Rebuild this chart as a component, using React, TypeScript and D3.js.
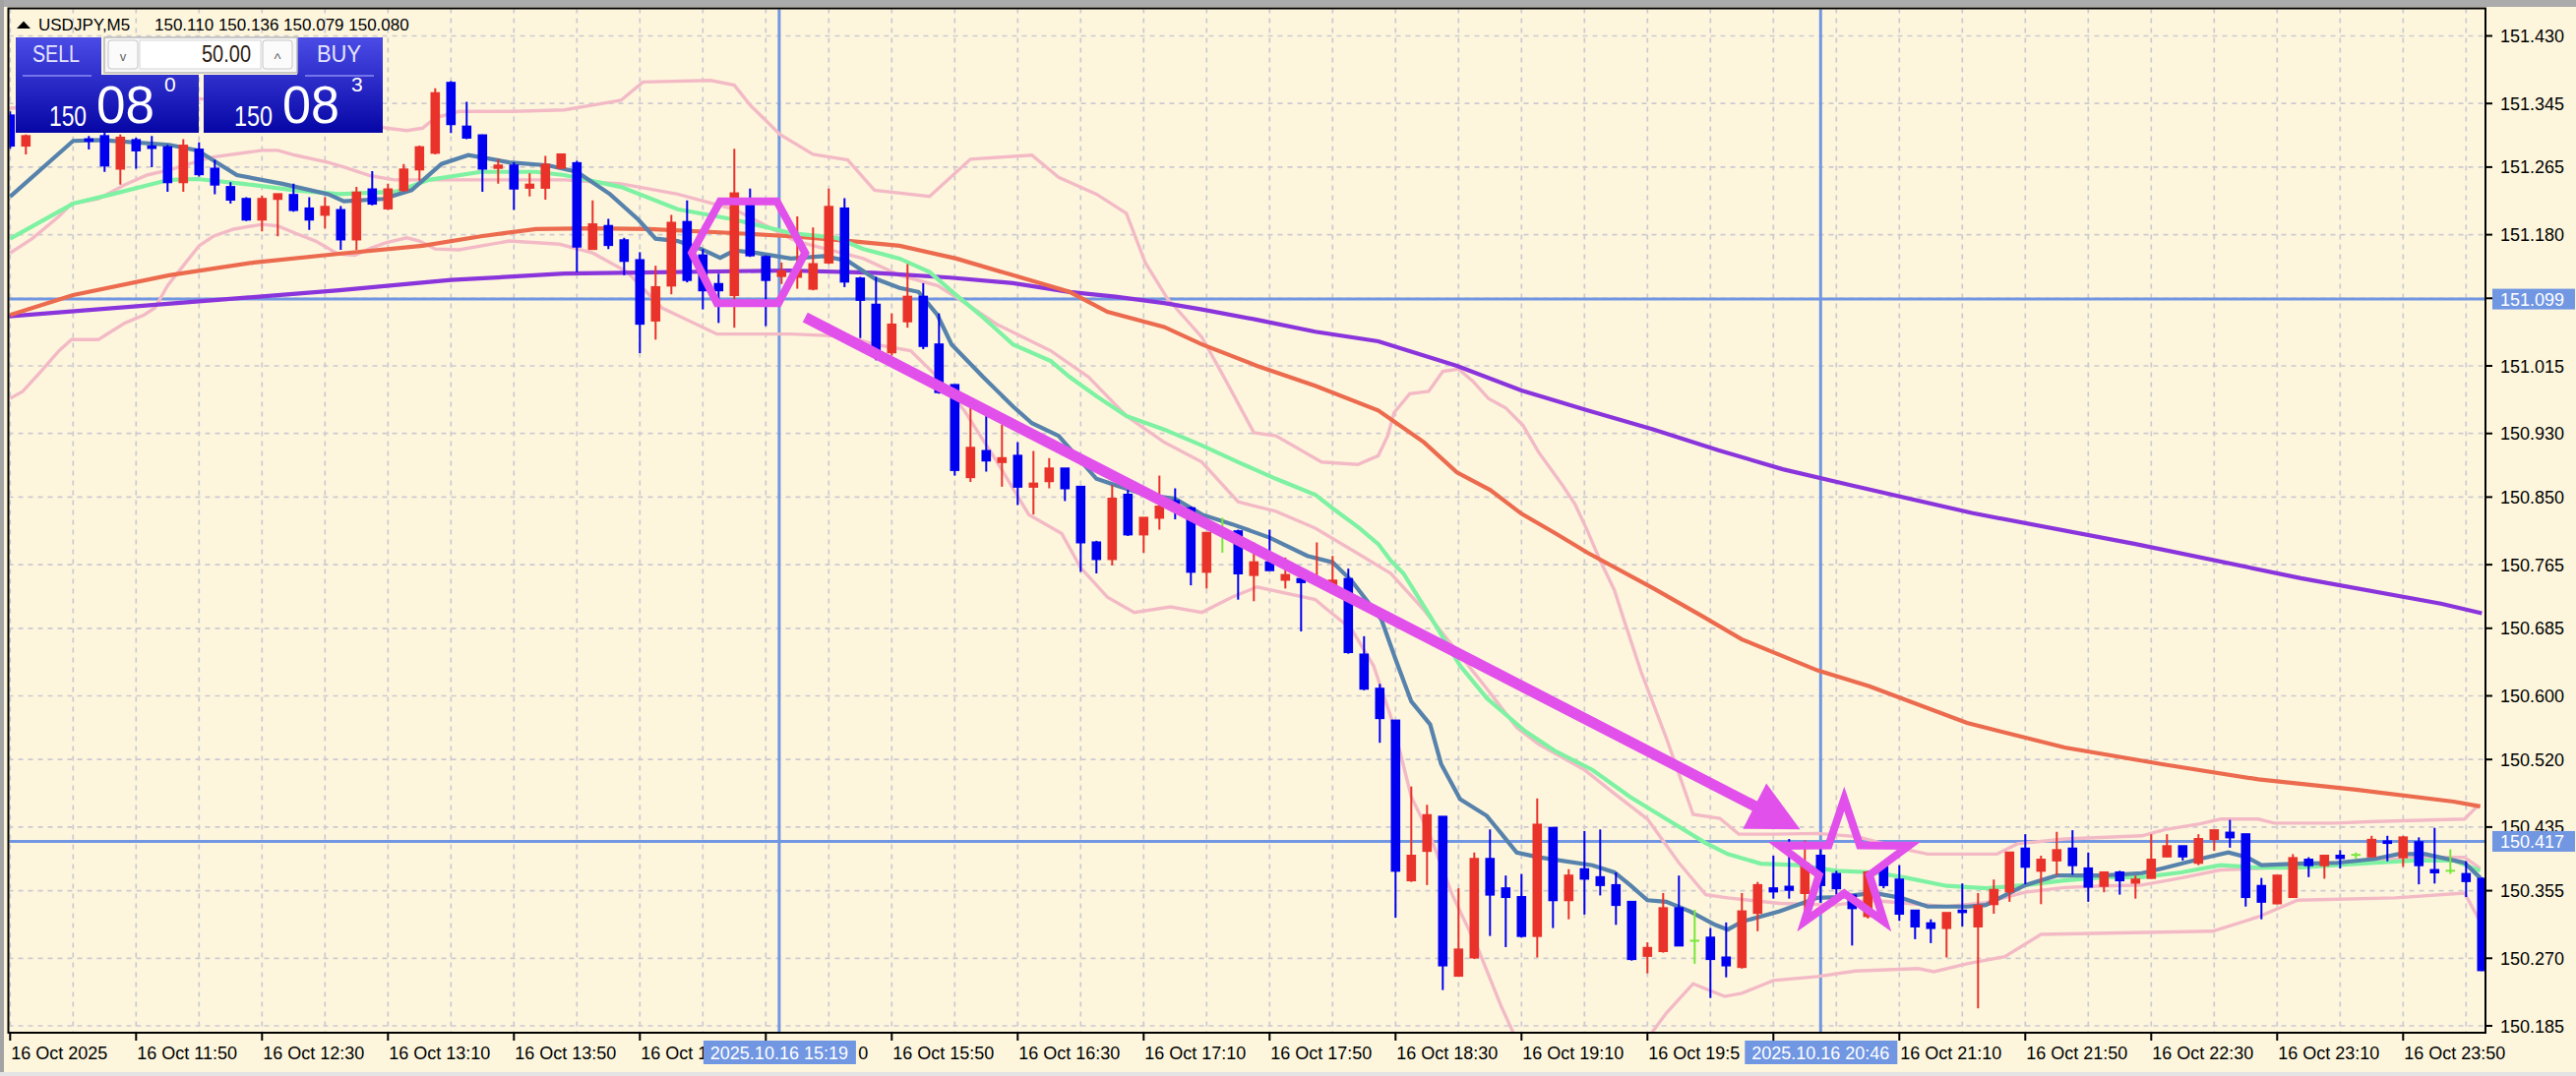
import React from 'react';
import * as d3 from 'd3';

const W = 2618;
const H = 1094;

// ---- candle data (M5 bars, index 0 = 16 Oct 11:10) ----
const opens = [
  151.330, 151.292, 151.318, 151.330, 151.320, 151.300, 151.304, 151.263, 151.299, 151.291,
  151.290, 151.246, 151.287, 151.263, 151.240, 151.225, 151.199, 151.225, 151.230, 151.213,
  151.205, 151.211, 151.174, 151.237, 151.213, 151.236, 151.262, 151.283, 151.371, 151.316,
  151.305, 151.264, 151.267, 151.239, 151.239, 151.264, 151.270, 151.162, 151.191, 151.173,
  151.148, 151.072, 151.116, 151.196, 151.154, 151.118, 151.104, 151.222, 151.152, 151.128,
  151.127, 151.112, 151.145, 151.213, 151.125, 151.092, 151.032, 151.071, 151.102, 151.042,
  150.991, 150.875, 150.908, 150.894, 150.902, 150.863, 150.870, 150.886, 150.863, 150.793,
  150.772, 150.853, 150.803, 150.824, 150.845, 150.836, 150.756, 150.803, 150.807, 150.752,
  150.768, 150.746, 150.747, 150.742, 150.739, 150.747, 150.652, 150.609, 150.569, 150.368,
  150.405, 150.448, 150.248, 150.271, 150.395, 150.358, 150.347, 150.298, 150.434, 150.343,
  150.382, 150.372, 150.362, 150.341, 150.273, 150.279, 150.333, 150.292, 150.296, 150.271,
  150.259, 150.327, 150.358, 150.360, 150.352, 150.399, 150.376, 150.349, 150.323, 150.385,
  150.369, 150.330, 150.314, 150.308, 150.330, 150.310, 150.338, 150.354, 150.408, 150.380,
  150.393, 150.408, 150.383, 150.361, 150.378, 150.365, 150.371, 150.398, 150.411, 150.390,
  150.420, 150.428, 150.426, 150.361, 150.339, 150.347, 150.394, 150.387, 150.399, 150.400,
  150.398, 150.417, 150.397, 150.416, 150.381, 150.380, 150.376, 150.370,
];
const highs = [
  151.335, 151.306, 151.335, 151.338, 151.332, 151.304, 151.310, 151.306, 151.302, 151.304,
  151.293, 151.300, 151.296, 151.274, 151.246, 151.227, 151.229, 151.231, 151.244, 151.227,
  151.227, 151.216, 151.240, 151.260, 151.244, 151.269, 151.292, 151.364, 151.373, 151.347,
  151.306, 151.275, 151.271, 151.257, 151.279, 151.282, 151.273, 151.223, 151.200, 151.176,
  151.158, 151.141, 151.205, 151.223, 151.162, 151.131, 151.288, 151.238, 151.154, 151.145,
  151.203, 151.189, 151.238, 151.226, 151.127, 151.127, 151.081, 151.143, 151.119, 151.081,
  150.991, 150.962, 150.952, 150.941, 150.919, 150.908, 150.899, 150.886, 150.863, 150.795,
  150.865, 150.859, 150.824, 150.877, 150.861, 150.838, 150.805, 150.824, 150.809, 150.793,
  150.809, 150.774, 150.750, 150.793, 150.776, 150.760, 150.675, 150.615, 150.569, 150.486,
  150.463, 150.448, 150.358, 150.403, 150.432, 150.374, 150.376, 150.471, 150.434, 150.382,
  150.430, 150.432, 150.378, 150.341, 150.290, 150.352, 150.374, 150.331, 150.308, 150.315,
  150.352, 150.366, 150.399, 150.420, 150.418, 150.415, 150.380, 150.350, 150.380, 150.387,
  150.387, 150.330, 150.319, 150.327, 150.364, 150.352, 150.369, 150.403, 150.426, 150.399,
  150.429, 150.431, 150.403, 150.378, 150.380, 150.374, 150.426, 150.426, 150.411, 150.426,
  150.431, 150.444, 150.426, 150.371, 150.374, 150.401, 150.397, 150.399, 150.406, 150.403,
  150.424, 150.424, 150.424, 150.422, 150.434, 150.407, 150.392, 150.372,
];
const lows = [
  151.288, 151.281, 151.312, 151.314, 151.312, 151.287, 151.259, 151.243, 151.263, 151.265,
  151.234, 151.234, 151.253, 151.231, 151.219, 151.197, 151.184, 151.178, 151.209, 151.186,
  151.188, 151.161, 151.161, 151.217, 151.211, 151.234, 151.248, 151.281, 151.308, 151.300,
  151.234, 151.244, 151.211, 151.228, 151.224, 151.263, 151.133, 151.161, 151.162, 151.129,
  151.031, 151.048, 151.105, 151.120, 151.086, 151.069, 151.063, 151.152, 151.065, 151.118,
  151.112, 151.110, 151.143, 151.114, 151.050, 151.022, 151.028, 151.063, 151.036, 150.980,
  150.877, 150.869, 150.882, 150.863, 150.840, 150.828, 150.861, 150.845, 150.756, 150.754,
  150.764, 150.801, 150.780, 150.809, 150.822, 150.739, 150.735, 150.780, 150.721, 150.719,
  150.758, 150.735, 150.681, 150.740, 150.739, 150.653, 150.607, 150.541, 150.321, 150.366,
  150.362, 150.230, 150.248, 150.269, 150.298, 150.284, 150.296, 150.271, 150.308, 150.319,
  150.325, 150.349, 150.312, 150.267, 150.251, 150.277, 150.286, 150.263, 150.220, 150.246,
  150.257, 150.304, 150.345, 150.345, 150.325, 150.340, 150.350, 150.286, 150.320, 150.358,
  150.317, 150.294, 150.289, 150.271, 150.310, 150.207, 150.326, 150.341, 150.363, 150.338,
  150.374, 150.375, 150.341, 150.353, 150.350, 150.345, 150.370, 150.397, 150.393, 150.387,
  150.405, 150.409, 150.335, 150.319, 150.338, 150.347, 150.372, 150.370, 150.383, 150.395,
  150.397, 150.392, 150.385, 150.363, 150.364, 150.376, 150.347, 150.254,
];
const closes = [
  151.292, 151.304, 151.330, 151.320, 151.326, 151.298, 151.267, 151.302, 151.286, 151.289,
  151.246, 151.292, 151.256, 151.243, 151.224, 151.199, 151.225, 151.231, 151.211, 151.199,
  151.215, 151.174, 151.233, 151.219, 151.237, 151.262, 151.290, 151.358, 151.319, 151.302,
  151.263, 151.267, 151.238, 151.243, 151.268, 151.281, 151.165, 151.193, 151.167, 151.147,
  151.068, 151.114, 151.195, 151.123, 151.110, 151.110, 151.232, 151.154, 151.123, 151.134,
  151.135, 151.143, 151.215, 151.121, 151.098, 151.036, 151.067, 151.102, 151.040, 150.982,
  150.884, 150.912, 150.896, 150.899, 150.863, 150.867, 150.886, 150.861, 150.793, 150.772,
  150.848, 150.803, 150.824, 150.838, 150.840, 150.756, 150.805, 150.803, 150.754, 150.768,
  150.758, 150.752, 150.743, 150.745, 150.745, 150.655, 150.609, 150.572, 150.380, 150.399,
  150.450, 150.261, 150.281, 150.395, 150.350, 150.347, 150.298, 150.438, 150.343, 150.374,
  150.370, 150.362, 150.337, 150.269, 150.283, 150.333, 150.286, 150.292, 150.269, 150.261,
  150.329, 150.362, 150.354, 150.356, 150.389, 150.362, 150.358, 150.333, 150.378, 150.362,
  150.326, 150.310, 150.308, 150.327, 150.328, 150.336, 150.356, 150.403, 150.385, 150.394,
  150.406, 150.387, 150.360, 150.378, 150.368, 150.369, 150.394, 150.411, 150.398, 150.420,
  150.431, 150.422, 150.347, 150.341, 150.374, 150.396, 150.387, 150.399, 150.396, 150.400,
  150.419, 150.415, 150.422, 150.387, 150.378, 150.380, 150.367, 150.255,
];

// ---- axis labels ----
const timeLabels = [
  '16 Oct 2025', '16 Oct 11:50', '16 Oct 12:30', '16 Oct 13:10', '16 Oct 13:50',
  '16 Oct 14:30', '16 Oct 15:10', '16 Oct 15:50', '16 Oct 16:30', '16 Oct 17:10',
  '16 Oct 17:50', '16 Oct 18:30', '16 Oct 19:10', '16 Oct 19:50', '16 Oct 20:30',
  '16 Oct 21:10', '16 Oct 21:50', '16 Oct 22:30', '16 Oct 23:10', '16 Oct 23:50',
];
// the part of each time label left visible next to the cursor boxes: [label index, visible start char, visible end char]
const cursorCut = [[5, 0, 8], [6, 11, 12], [13, 0, 11], [14, 0, 0]];
const priceTicks = [
  '151.430', '151.345', '151.265', '151.180', '151.100', '151.015', '150.930', '150.850',
  '150.765', '150.685', '150.600', '150.520', '150.435', '150.355', '150.270', '150.185',
];

// ---- indicator lines: [bar index, price] ----
const maFast = [
  [0, 151.228], [4, 151.298], [5.8, 151.299], [10.1, 151.293], [11.9, 151.286], [14.4, 151.255],
  [17.3, 151.244], [20.2, 151.231], [21.2, 151.222], [23.7, 151.225], [25.5, 151.236], [27.4, 151.269],
  [29.1, 151.280], [31.7, 151.271], [34.2, 151.267], [36, 151.259], [38.1, 151.231], [39.9, 151.199],
  [41, 151.175], [42.4, 151.172], [43.9, 151.162], [45.1, 151.151], [46, 151.160], [47.4, 151.157],
  [49.6, 151.150], [51.7, 151.153], [53.2, 151.147], [54.9, 151.125], [56.5, 151.113], [57.7, 151.108],
  [58.9, 151.079], [59.8, 151.042], [61.8, 151.001], [63.7, 150.964], [64.9, 150.943], [66.6, 150.927],
  [69, 150.873], [70.2, 150.865], [72.1, 150.853], [74, 150.848], [75.7, 150.828], [77.6, 150.816],
  [80, 150.799], [82.4, 150.776], [84, 150.768], [85.2, 150.745], [87.1, 150.696], [88, 150.646],
  [89, 150.593], [90.2, 150.564], [90.9, 150.514], [92.1, 150.470], [93.8, 150.449], [95.7, 150.403],
  [97.1, 150.397], [100.5, 150.387], [101.9, 150.378], [102.9, 150.362], [104, 150.343], [105.2, 150.341],
  [106.7, 150.329], [108.3, 150.312], [109.1, 150.306], [110, 150.316], [112.4, 150.329], [114.8, 150.346],
  [116, 150.347], [118.4, 150.352], [120.1, 150.346], [121.8, 150.335], [124.3, 150.335], [125.5, 150.337],
  [126.7, 150.349], [128, 150.362], [130, 150.374], [133, 150.374], [135.4, 150.377], [136.7, 150.383],
  [139.1, 150.395], [140.9, 150.403], [142.1, 150.397], [143, 150.387], [145.3, 150.389], [147.8, 150.390],
  [150.2, 150.395], [151.7, 150.401], [153.4, 150.401], [155.9, 150.390], [156.9, 150.371],
];
const maMid = [
  [0, 151.175], [4, 151.219], [6.5, 151.231], [10.1, 151.249], [11.9, 151.250], [14.8, 151.244],
  [18, 151.236], [20.9, 151.231], [24.5, 151.234], [26.6, 151.249], [29.9, 151.259], [33.4, 151.259],
  [35.2, 151.255], [38.8, 151.240], [42.4, 151.212], [46, 151.199], [49.6, 151.182], [52.5, 151.176],
  [54.2, 151.162], [56.5, 151.150], [58.4, 151.133], [60.1, 151.104], [61.8, 151.076], [63.7, 151.042],
  [66.1, 151.021], [67.3, 151.001], [69, 150.977], [70.9, 150.952], [73.3, 150.935], [75.7, 150.915],
  [78, 150.894], [80.4, 150.873], [82.9, 150.853], [84, 150.836], [85.7, 150.811], [86.9, 150.791],
  [87.7, 150.770], [88.5, 150.754], [90.2, 150.700], [92.1, 150.638], [93.8, 150.597], [96.2, 150.556],
  [98.1, 150.531], [100.5, 150.507], [102.9, 150.473], [105.2, 150.445], [107.7, 150.415], [109.1, 150.401],
  [111.2, 150.389], [113.6, 150.387], [116, 150.380], [118.4, 150.378], [120.5, 150.371], [123, 150.361],
  [125.5, 150.358], [128, 150.362], [130.5, 150.368], [133, 150.372], [135.4, 150.372], [137.9, 150.378],
  [140.4, 150.387], [142.8, 150.384], [145.3, 150.384], [147.7, 150.387], [150.2, 150.390], [152.7, 150.393],
  [155.2, 150.393], [156.9, 150.380],
];
const maSlow = [
  [0, 151.079], [4, 151.104], [10.1, 151.129], [15.5, 151.145], [20.9, 151.156], [26.2, 151.166],
  [29.9, 151.178], [33.4, 151.187], [37, 151.188], [40.6, 151.187], [46, 151.182], [49.6, 151.178],
  [53.4, 151.172], [56.5, 151.166], [60.1, 151.150], [63.7, 151.129], [67.3, 151.108], [69.7, 151.083],
  [73.3, 151.064], [75.7, 151.042], [79.2, 151.015], [82.9, 150.990], [86.9, 150.959], [89.8, 150.919],
  [91.9, 150.881], [94, 150.859], [96, 150.829], [98.1, 150.805], [100.2, 150.780], [104.4, 150.735],
  [107.5, 150.700], [110, 150.671], [114.8, 150.632], [118.1, 150.612], [124.3, 150.566], [130.5, 150.535],
  [136.7, 150.514], [142.8, 150.495], [149, 150.482], [155.2, 150.467], [156.9, 150.461],
];
const maLong = [
  [-0.2, 151.077], [11.2, 151.095], [20.9, 151.110], [28, 151.123], [35.2, 151.131], [38.8, 151.132],
  [49.4, 151.135], [54.9, 151.132], [59.7, 151.126], [63.7, 151.119], [67.3, 151.108], [70.2, 151.102],
  [73.3, 151.094], [75.7, 151.086], [79.2, 151.073], [82.9, 151.058], [86.9, 151.046], [91.9, 151.015],
  [96, 150.984], [100.2, 150.959], [104.4, 150.935], [108.5, 150.909], [112.6, 150.885], [116.9, 150.865],
  [124.6, 150.830], [135, 150.791], [145.5, 150.748], [154.4, 150.716], [157, 150.704],
];
const bandUpper = [
  [-0.1, 151.339], [5.6, 151.345], [11.9, 151.351], [18.1, 151.345], [23.9, 151.314], [25.2, 151.311],
  [26.2, 151.314], [27, 151.327], [28.5, 151.335], [31.9, 151.335], [35.2, 151.337], [37, 151.343],
  [38.8, 151.349], [40.2, 151.372], [44.5, 151.374], [46, 151.368], [47, 151.343], [48.9, 151.306],
  [51, 151.281], [53.2, 151.274], [54.9, 151.236], [58.4, 151.228], [61, 151.275], [64.9, 151.280],
  [66.6, 151.252], [69, 151.231], [70.9, 151.207], [72.1, 151.145], [73.5, 151.100], [75.7, 151.051],
  [77.1, 151.001], [79, 150.931], [80.4, 150.927], [83.3, 150.894], [85.6, 150.891], [86.9, 150.902],
  [87.5, 150.927], [87.9, 150.956], [88.9, 150.980], [90.1, 150.983], [91, 151.008], [92, 151.011],
  [92.9, 150.996], [93.9, 150.974], [95, 150.962], [96.1, 150.940], [97.1, 150.906], [98.6, 150.865],
  [99.4, 150.841], [100.2, 150.807], [101, 150.770], [101.9, 150.733], [102.5, 150.696], [103.6, 150.630],
  [105.2, 150.547], [106.9, 150.451], [108.6, 150.446], [109.8, 150.426], [112, 150.426], [114.8, 150.427],
  [117.3, 150.423], [120.6, 150.406], [121.8, 150.401], [126.2, 150.401], [127.5, 150.414], [130.5, 150.420],
  [135.4, 150.424], [136.9, 150.432], [139.1, 150.439], [140.4, 150.445], [142.8, 150.445], [143.8, 150.440],
  [147.7, 150.440], [150.2, 150.442], [155.9, 150.445], [156.7, 150.461],
];
const bandMiddle = [
  [0, 151.157], [1.4, 151.175], [3.1, 151.203], [3.9, 151.219], [5.6, 151.225], [7.3, 151.243],
  [8.7, 151.255], [10.2, 151.262], [12.7, 151.277], [16, 151.286], [17, 151.286], [18.1, 151.280],
  [20.2, 151.271], [21.2, 151.265], [22.9, 151.254], [24.4, 151.249], [27.5, 151.249], [31.9, 151.249],
  [35.2, 151.249], [38.8, 151.244], [42.4, 151.231], [46, 151.212], [49.9, 151.172], [54.2, 151.150],
  [56.5, 151.129], [58.9, 151.116], [60.6, 151.095], [62.7, 151.067], [66.1, 151.034], [68.5, 151.001],
  [70.9, 150.952], [73.3, 150.919], [75.7, 150.894], [78, 150.844], [80.4, 150.832], [82.9, 150.811],
  [85.6, 150.779], [87.7, 150.754], [89.8, 150.708], [93.8, 150.609], [95.7, 150.560], [97.1, 150.539],
  [100, 150.507], [101.9, 150.477], [104, 150.445], [106, 150.390], [107.7, 150.350], [109.1, 150.346],
  [112.4, 150.339], [116, 150.337], [118.1, 150.343], [123, 150.335], [125.5, 150.340], [128, 150.353],
  [130.5, 150.359], [133, 150.361], [135.4, 150.362], [137.9, 150.371], [140.4, 150.381], [142.8, 150.383],
  [145.3, 150.387], [150.2, 150.393], [153.2, 150.397], [155.9, 150.397], [156.9, 150.383],
];
const bandLower = [
  [0, 150.974], [0.8, 150.983], [2, 151.009], [3.1, 151.034], [3.9, 151.048], [5.6, 151.048],
  [6.4, 151.058], [7.3, 151.069], [8.5, 151.079], [9.2, 151.088], [10, 151.116], [11, 151.141],
  [12, 151.166], [12.9, 151.178], [14.2, 151.187], [16, 151.193], [17, 151.191], [18.1, 151.182],
  [19.4, 151.172], [20.8, 151.156], [21.9, 151.154], [22.9, 151.163], [23.9, 151.170], [25.2, 151.176],
  [26, 151.172], [27, 151.162], [28.5, 151.161], [31.7, 151.172], [34.9, 151.168], [37, 151.157],
  [39.2, 151.133], [41.4, 151.088], [44.9, 151.055], [49.6, 151.055], [53.2, 151.052], [54.9, 151.042],
  [57.2, 151.034], [58.9, 151.001], [60.6, 150.959], [62.7, 150.894], [64.7, 150.828], [66.8, 150.804],
  [68, 150.761], [69.7, 150.724], [71.4, 150.705], [73.7, 150.712], [75.7, 150.705], [77.6, 150.724],
  [79.2, 150.737], [82.9, 150.721], [83.7, 150.708], [85.2, 150.684], [86.6, 150.638], [87.8, 150.568],
  [89, 150.473], [90.2, 150.424], [91.6, 150.350], [93.3, 150.279], [94.7, 150.210], [96.2, 150.145],
  [99.4, 150.115], [103.1, 150.145], [105.2, 150.201], [106.9, 150.238], [108.9, 150.222], [110, 150.226],
  [112, 150.242], [114.8, 150.247], [117.2, 150.254], [121.2, 150.257], [122.2, 150.253], [124.3, 150.263],
  [126.7, 150.272], [129, 150.300], [139.9, 150.304], [142.8, 150.322], [145.3, 150.343], [151.5, 150.346],
  [155.9, 150.352], [156.9, 150.316],
];

// ---- drawn objects ----
const hexagon = [[45.1, 151.222], [48.7, 151.222], [50.5, 151.157], [48.8, 151.094], [44.9, 151.094], [43.3, 151.157]];
const arrowFrom = [50.5, 151.076];
const arrowTo = [113.7, 150.432];
const starCenter = [116.5, 150.385];
const crossBars = [48.85, 115.0];
const crossBarLabels = ['2025.10.16 15:19', '2025.10.16 20:46'];
const crossPrices = [151.099, 150.417];

const FONT = "'Liberation Sans', Arial, Helvetica, sans-serif";
const BG = '#fdf6dd';
const PL = 8.5, PT = 8.5, PR = 2526, PB = 1050;

export default function App() {
  const x = d3.scaleLinear().domain([0, 157]).range([10.3, 2522.3]);
  const y = d3.scaleLinear().domain([150.185, 151.43]).range([1043, 36.5]);
  const line = d3.line<number[]>().x((d) => x(d[0])).y((d) => y(d[1]));

  const gridBars = d3.range(0, 158, 4);
  const labelBars = d3.range(0, 158, 8);

  // measure label prefix widths (Liberation Sans metrics at 18px)
  const charW = (ch: string) => {
    if (/[0-9]/.test(ch)) return 10.01;
    if (ch === ' ' || ch === ':' || ch === '.' || ch === 't') return 5.0;
    if (ch === 'O') return 14.0;
    if (ch === 'c') return 9.0;
    return 10;
  };
  const prefixW = (s: string, n: number) => s.slice(0, n).split('').reduce((a, c) => a + charW(c), 0);

  // arrow geometry
  const a0 = [x(arrowFrom[0]), y(arrowFrom[1])];
  const a1 = [x(arrowTo[0]), y(arrowTo[1])];
  const dx = a1[0] - a0[0], dy = a1[1] - a0[1];
  const len = Math.hypot(dx, dy);
  const ux = dx / len, uy = dy / len;
  const headLen = 52, headHalf = 26;
  const base = [a1[0] - ux * headLen, a1[1] - uy * headLen];
  const headPts = [
    a1,
    [base[0] - uy * headHalf, base[1] + ux * headHalf],
    [base[0] + uy * headHalf, base[1] - ux * headHalf],
  ];

  // star geometry
  const sc = [x(starCenter[0]), y(starCenter[1])];
  const starPts = d3.range(10).map((k) => {
    const ang = (-90 + k * 36) * Math.PI / 180;
    const r = k % 2 === 0 ? 69 : 27;
    return [sc[0] + r * Math.cos(ang), sc[1] + r * Math.sin(ang)];
  });

  const red = '#e8322a';
  const blue = '#0000f0';
  const doji = '#77e83a';
  const pink = '#f3bac6';

  return (
    <svg width={W} height={H} style={{ position: 'absolute', left: 0, top: 0, display: 'block' }} fontFamily={FONT}>
      <defs>
        <clipPath id="plot">
          <rect x={PL + 1} y={PT + 1} width={PR - PL - 2} height={PB - PT - 2} />
        </clipPath>
        <linearGradient id="pg" x1="0" y1="0" x2="0" y2="1">
          <stop offset="0" stopColor="#4b4be6" />
          <stop offset="1" stopColor="#0606a6" />
        </linearGradient>
      </defs>
      <rect x={0} y={0} width={W} height={H} fill={BG} />
      <rect x={0} y={0} width={W} height={7} fill="#ababab" />
      <rect x={0} y={0} width={4} height={H} fill="#a3a3a3" />
      <rect x={0} y={1090} width={W} height={4} fill="#e4e4e4" />

      <g clipPath="url(#plot)">
        {/* grid */}
        {gridBars.map((b) => (
          <line key={'gv' + b} x1={x(b)} x2={x(b)} y1={PT} y2={PB} stroke="#cdc9cf" strokeWidth={1.7} strokeDasharray="5,5" />
        ))}
        {priceTicks.map((t) => (
          <line key={'gh' + t} x1={PL} x2={PR} y1={y(+t)} y2={y(+t)} stroke="#cdc9cf" strokeWidth={1.7} strokeDasharray="5,5" />
        ))}
        {/* crosshair lines */}
        {crossPrices.map((p) => (
          <line key={'hp' + p} x1={PL} x2={PR} y1={y(p)} y2={y(p)} stroke="#7196e2" strokeWidth={3} />
        ))}
        {crossBars.map((b) => (
          <line key={'vb' + b} x1={x(b)} x2={x(b)} y1={PT} y2={PB} stroke="#7196e2" strokeWidth={3} />
        ))}
        {/* indicators */}
        <path d={line(bandUpper) || ''} fill="none" stroke={pink} strokeWidth={3.4} />
        <path d={line(bandMiddle) || ''} fill="none" stroke={pink} strokeWidth={3.4} />
        <path d={line(bandLower) || ''} fill="none" stroke={pink} strokeWidth={3.4} />
        <path d={line(maLong) || ''} fill="none" stroke="#8a34dc" strokeWidth={4.2} />
        <path d={line(maSlow) || ''} fill="none" stroke="#ec6a4e" strokeWidth={4.2} />
        <path d={line(maMid) || ''} fill="none" stroke="#7ef2a2" strokeWidth={4.2} />
        <path d={line(maFast) || ''} fill="none" stroke="#5682ac" strokeWidth={4.2} />
        {/* candles */}
        {opens.map((o, i) => {
          const c = closes[i];
          const col = c > o ? red : c < o ? blue : doji;
          const cx = x(i);
          const top = y(Math.max(o, c));
          const bot = y(Math.min(o, c));
          return (
            <g key={'c' + i}>
              <line x1={cx} x2={cx} y1={y(highs[i])} y2={y(lows[i])} stroke={col} strokeWidth={2} />
              <rect x={cx - 4.8} y={top - 1} width={9.6} height={Math.max(bot - top, 0) + 2} fill={col} />
            </g>
          );
        })}
        {/* objects */}
        <polygon
          points={hexagon.map((p) => `${x(p[0])},${y(p[1])}`).join(' ')}
          fill="none" stroke="#e150ea" strokeWidth={8} strokeLinejoin="miter"
        />
        <line x1={a0[0]} y1={a0[1]} x2={base[0] + ux * 4} y2={base[1] + uy * 4} stroke="#e150ea" strokeWidth={11} />
        <polygon points={headPts.map((p) => p.join(',')).join(' ')} fill="#e150ea" />
        <polygon points={starPts.map((p) => p.join(',')).join(' ')} fill="none" stroke="#e150ea" strokeWidth={8} strokeLinejoin="miter" />
      </g>

      {/* plot frame */}
      <rect x={PL} y={PT} width={PR - PL} height={PB - PT} fill="none" stroke="#000" strokeWidth={2} />

      {/* right axis */}
      {priceTicks.map((t) => (
        <g key={'pt' + t}>
          <line x1={PR} x2={PR + 7} y1={y(+t)} y2={y(+t)} stroke="#000" strokeWidth={2} />
          <text x={PR + 15} y={y(+t) + 6.5} fontSize={18} fill="#000">{t}</text>
        </g>
      ))}
      {crossPrices.map((p) => (
        <g key={'pl' + p}>
          <rect x={2533} y={y(p) - 10.5} width={84} height={21} fill="#7196e2" />
          <text x={PR + 15} y={y(p) + 6.5} fontSize={18} fill="#fff">{p.toFixed(3)}</text>
        </g>
      ))}

      {/* bottom axis */}
      {labelBars.map((b, k) => {
        const cut = cursorCut.find((c) => c[0] === k);
        const full = timeLabels[k];
        const s0 = cut ? cut[1] : 0;
        const s1 = cut ? cut[2] : full.length;
        const txt = full.slice(s0, s1);
        return (
          <g key={'tl' + b}>
            <line x1={x(b)} x2={x(b)} y1={PB} y2={PB + 8} stroke="#000" strokeWidth={2} />
            {txt.length > 0 && (
              <text x={x(b) + 1 + prefixW(full, s0)} y={1077} fontSize={18} fill="#000">{txt}</text>
            )}
          </g>
        );
      })}
      {crossBars.map((b, k) => (
        <g key={'bl' + b}>
          <rect x={x(b) - 77} y={1058} width={155} height={24} fill="#7196e2" />
          <text x={x(b)} y={1077} fontSize={18} fill="#fff" textAnchor="middle">{crossBarLabels[k]}</text>
        </g>
      ))}

      {/* header */}
      <polygon points="17,29 24,21.5 31,29" fill="#000" />
      <text x={39} y={31} fontSize={17} fill="#000">USDJPY,M5</text>
      <text x={157} y={31} fontSize={17} fill="#000">150.110 150.136 150.079 150.080</text>

      {/* one-click trading panel */}
      <polygon points="16,38 103,38 103,76 202,76 202,135 16,135" fill="url(#pg)" />
      <polygon points="302,38 389,38 389,135 207,135 207,76 302,76" fill="url(#pg)" />
      <rect x={106} y={38} width={196} height={36} fill="#f7f7f7" stroke="#b9b9b9" strokeWidth={1.5} />
      <rect x={110} y={41} width={30} height={29} rx={3} fill="#fbfbfb" stroke="#c6c6c6" />
      <rect x={142} y={41} width={123} height={29} fill="#ffffff" stroke="#d6d6d6" />
      <rect x={267} y={41} width={30} height={29} rx={3} fill="#fbfbfb" stroke="#c6c6c6" />
      <text x={125} y={62} fontSize={13} fill="#666" textAnchor="middle">v</text>
      <text x={282} y={65} fontSize={15} fill="#666" textAnchor="middle">^</text>
      <text x={255} y={63} fontSize={23} fill="#2a1a10" textAnchor="end" textLength={50} lengthAdjust="spacingAndGlyphs">50.00</text>
      <line x1={23} x2={93} y1={77} y2={77} stroke="#8c8cf5" strokeWidth={1.5} />
      <line x1={310} x2={380} y1={77} y2={77} stroke="#8c8cf5" strokeWidth={1.5} />
      <text x={33} y={63} fontSize={24} fill="#e4e4ff" textLength={48} lengthAdjust="spacingAndGlyphs">SELL</text>
      <text x={322} y={63} fontSize={24} fill="#e4e4ff" textLength={45} lengthAdjust="spacingAndGlyphs">BUY</text>
      <text x={50} y={128} fontSize={29} fill="#fff" textLength={38} lengthAdjust="spacingAndGlyphs">150</text>
      <text x={98} y={125} fontSize={53} fill="#fff" textLength={59} lengthAdjust="spacingAndGlyphs">08</text>
      <text x={167} y={93} fontSize={21} fill="#fff">0</text>
      <text x={238} y={128} fontSize={29} fill="#fff" textLength={39} lengthAdjust="spacingAndGlyphs">150</text>
      <text x={287} y={125} fontSize={53} fill="#fff" textLength={58} lengthAdjust="spacingAndGlyphs">08</text>
      <text x={357} y={93} fontSize={21} fill="#fff">3</text>
    </svg>
  );
}
